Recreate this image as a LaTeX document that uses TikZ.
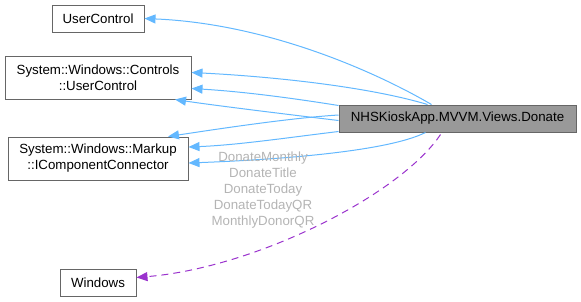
\documentclass[tikz,border=0pt]{standalone}
\usepackage{fontspec}
\setmainfont{Liberation Sans}
\usepackage{xcolor}
\usepackage{tikz}
\usetikzlibrary{arrows.meta}
\definecolor{edgeblue}{HTML}{63B8FF}
\definecolor{usesviolet}{HTML}{9A32CD}
\definecolor{frame}{HTML}{666666}
\definecolor{current}{HTML}{999999}
\definecolor{lblgrey}{HTML}{B4B4B4}
\tikzset{
  every node/.style={font=\fontsize{13.3}{16}\selectfont},
  cls/.style={draw=frame, fill=white, line width=1pt, inner sep=0pt, align=center},
  inh/.style={draw=edgeblue, line width=1pt, -{Triangle[length=11pt,width=9pt]}},
  uses/.style={draw=usesviolet, line width=1pt, dash pattern=on 7pt off 5pt,
    -{Triangle[length=11pt,width=9pt]}},
}

\begin{document}
\begin{tikzpicture}[x=1pt, y=1pt]
\useasboundingbox (0,0) rectangle (581,-301);
% class boxes
\node[cls, minimum width=92pt, minimum height=27pt] (uc) at (98,-18.5) {UserControl};
\node[cls, minimum width=186pt, minimum height=43pt] (ctl) at (98,-77.5)
  {System::Windows::Controls\\::UserControl};
\node[cls, minimum width=180pt, minimum height=43pt] (mkp) at (98,-158.5)
  {System::Windows::Markup\\::IComponentConnector};
\node[cls, minimum width=76pt, minimum height=27pt] (win) at (98,-282.5) {Windows};
\node[cls, fill=current, minimum width=237pt, minimum height=27pt] (donate) at (457.5,-118.5)
  {NHSKioskApp.MVVM.Views.Donate};
% inheritance
\draw[inh] ([xshift=-26pt]donate.north) .. controls +(-60,35) and +(120,-5) .. (uc.east);
\draw[inh] ([xshift=-30pt]donate.north) .. controls +(-60,18) and +(80,-4) .. ([yshift=5pt]ctl.east);
\draw[inh] ([yshift=-1pt]donate.north west) .. controls +(-50,8) and +(50,-3) .. ([yshift=-11pt]ctl.east);
\draw[inh] ([yshift=-2pt]donate.west) .. controls +(-50,6) and +(40,-6) .. ([xshift=77pt]ctl.south);
\draw[inh] ([yshift=3.5pt]donate.west) .. controls +(-50,-3) and +(40,6) .. ([xshift=70pt]mkp.north);
\draw[inh] ([yshift=1pt]donate.south west) .. controls +(-50,-6) and +(50,2) .. ([yshift=11.5pt]mkp.east);
\draw[inh] ([xshift=-32pt]donate.south) .. controls +(-40,-20) and +(80,3) .. ([yshift=-4.5pt]mkp.east);
% usage
\draw[uses] ([xshift=-17pt,yshift=-2pt]donate.south) .. controls +(-40,-60) and +(120,10) .. ([yshift=5pt]win.east);
\node[text=lblgrey, align=center, inner sep=0pt, font=\fontsize{13.3}{16.2}\selectfont] (members) at (263,-190)
  {DonateMonthly\\DonateTitle\\DonateToday\\DonateTodayQR\\MonthlyDonorQR};
\end{tikzpicture}
\end{document}
